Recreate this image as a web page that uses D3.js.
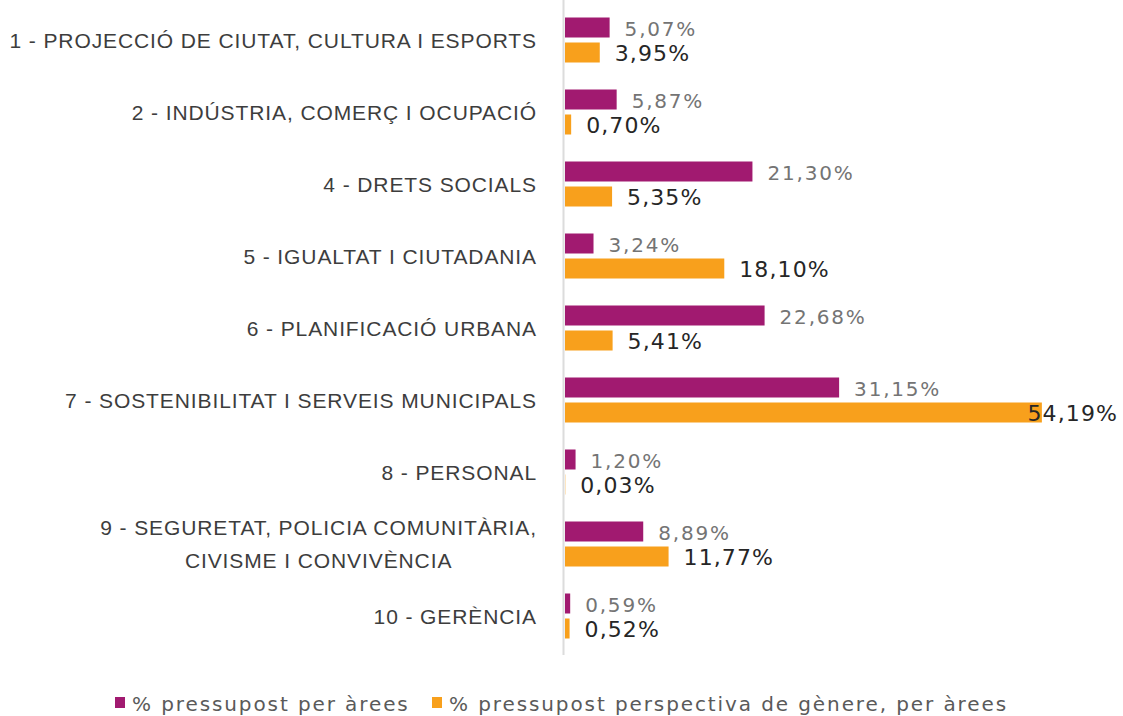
<!DOCTYPE html>
<html>
<head>
<meta charset="utf-8">
<script src="https://cdn.jsdelivr.net/npm/d3@7"></script>
<style>
  html, body { margin: 0; padding: 0; background: #ffffff; }
  svg { display: block; }
</style>
</head>
<body>
<svg id="chart" width="1123" height="716"></svg>
<script>
// ---- data ----
const categories = [
  ["1 - PROJECCIÓ DE CIUTAT, CULTURA I ESPORTS"],
  ["2 - INDÚSTRIA, COMERÇ I OCUPACIÓ"],
  ["4 - DRETS SOCIALS"],
  ["5 - IGUALTAT I CIUTADANIA"],
  ["6 - PLANIFICACIÓ URBANA"],
  ["7 - SOSTENIBILITAT I SERVEIS MUNICIPALS"],
  ["8 - PERSONAL"],
  ["9 - SEGURETAT, POLICIA COMUNITÀRIA,", "CIVISME I CONVIVÈNCIA"],
  ["10 - GERÈNCIA"]
];
const seriesNames = ["% pressupost per àrees", "% pressupost perspectiva de gènere, per àrees"];
const pressupostArees = [5.07, 5.87, 21.30, 3.24, 22.68, 31.15, 1.20, 8.89, 0.59];
const pressupostGenere = [3.95, 0.70, 5.35, 18.10, 5.41, 54.19, 0.03, 11.77, 0.52];

// ---- setup ----
const svg = d3.select("#chart");
const colors = ["#a11a70", "#f8a01c"];
const keys = categories.map((c, i) => "c" + i);
const fmt = v => d3.format(".2f")(v).replace(".", ",") + "%";

const x = d3.scaleLinear().domain([0, 60]).range([565, 1093]);
const y = d3.scaleBand().domain(keys).range([4, 4 + 72 * keys.length]);
const ySub = d3.scaleBand().domain([0, 1]).range([0, y.bandwidth()])
  .paddingInner(0.2).paddingOuter(0.54);

const rows = keys.map((k, i) => ({ key: k, label: categories[i], vals: [pressupostArees[i], pressupostGenere[i]] }));

// axis line
svg.append("line")
  .attr("x1", 563.5).attr("x2", 563.5)
  .attr("y1", 0).attr("y2", 655)
  .attr("stroke", "#dcdcdc").attr("stroke-width", 2);

// category labels
const labelX = 537;
const labFont = { family: "Liberation Sans, Arial, sans-serif", size: 21, spacing: 0.9, fill: "#3d3d3d" };
function catText(g) {
  return g.append("text")
    .attr("dominant-baseline", "central")
    .attr("font-family", labFont.family)
    .attr("font-size", labFont.size)
    .attr("letter-spacing", labFont.spacing)
    .attr("fill", labFont.fill);
}
rows.forEach(r => {
  const cy = y(r.key) + y.bandwidth() / 2;
  const g = svg.append("g");
  if (r.label.length === 1) {
    catText(g).attr("x", labelX).attr("y", cy).attr("text-anchor", "end").text(r.label[0]);
  } else {
    const t1 = catText(g).attr("x", labelX).attr("y", cy - 17).attr("text-anchor", "end").text(r.label[0]);
    const w = t1.node().getComputedTextLength();
    catText(g).attr("x", labelX - w / 2).attr("y", cy + 16).attr("text-anchor", "middle").text(r.label[1]);
  }
});

// bars
const groups = svg.selectAll("g.row").data(rows).enter().append("g")
  .attr("class", "row")
  .attr("transform", d => `translate(0,${y(d.key)})`);

groups.selectAll("rect").data(d => d.vals.map((v, s) => ({ v, s }))).enter().append("rect")
  .attr("x", x(0))
  .attr("y", d => ySub(d.s))
  .attr("width", d => Math.max(0, x(d.v) - x(0)))
  .attr("height", ySub.bandwidth())
  .attr("fill", d => colors[d.s]);

// value labels
const maxRight = 1118;
groups.selectAll("text.val").data(d => d.vals.map((v, s) => ({ v, s }))).enter().append("text")
  .attr("class", "val")
  .attr("x", d => x(d.v) + 15)
  .attr("y", d => ySub(d.s) + ySub.bandwidth() / 2 + 1)
  .attr("dominant-baseline", "central")
  .attr("font-family", "DejaVu Sans, Verdana, sans-serif")
  .attr("font-size", d => d.s === 0 ? 20 : 22)
  .attr("letter-spacing", d => d.s === 0 ? 1.8 : 1.1)
  .attr("fill", d => d.s === 0 ? "#747474" : "#262626")
  .text(d => fmt(d.v))
  .each(function(d) {
    const w = this.getComputedTextLength();
    const sx = +d3.select(this).attr("x");
    if (sx + w > maxRight) {
      d3.select(this).attr("x", maxRight - w);
    }
  });

// legend
const legendItems = [
  { name: seriesNames[0], color: colors[0], x: 115 },
  { name: seriesNames[1], color: colors[1], x: 432 }
];
const leg = svg.selectAll("g.leg").data(legendItems).enter().append("g")
  .attr("class", "leg")
  .attr("transform", d => `translate(${d.x},697)`);
leg.append("rect").attr("x", 0).attr("y", 0).attr("width", 10).attr("height", 11)
  .attr("fill", d => d.color);
leg.append("text")
  .attr("x", 17).attr("y", 7)
  .attr("dominant-baseline", "central")
  .attr("font-family", "DejaVu Sans, Verdana, sans-serif")
  .attr("font-size", 20).attr("letter-spacing", 1.9).attr("fill", "#5a5a5a")
  .text(d => d.name);
</script>
</body>
</html>
